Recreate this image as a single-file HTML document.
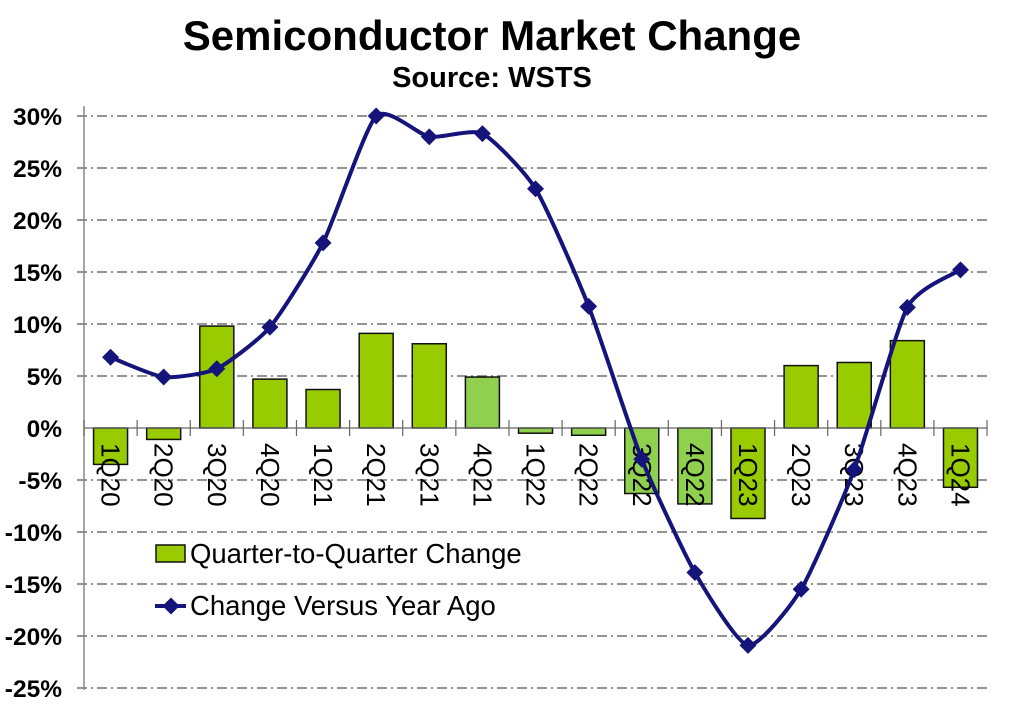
<!DOCTYPE html>
<html><head><meta charset="utf-8"><style>
body{margin:0;background:#fff;}
svg{display:block;font-family:"Liberation Sans",Arial,sans-serif;}
</style></head><body>
<svg width="1025" height="705" viewBox="0 0 1025 705" xmlns="http://www.w3.org/2000/svg">
<text x="492" y="50" text-anchor="middle" font-size="42" font-weight="bold">Semiconductor Market Change</text>
<text x="492" y="87" text-anchor="middle" font-size="29" font-weight="bold">Source: WSTS</text>
<g id="grid" stroke="#555" stroke-width="1.2" stroke-dasharray="10,4,2,4"></g>
<g id="ylab" font-size="24.5" font-weight="bold" text-anchor="end"></g>
<line x1="84" y1="106" x2="84" y2="690" stroke="#888" stroke-width="1.5"/>
<g id="bars" stroke="#111" stroke-width="1.5"></g>
<g id="ticks" stroke="#666" stroke-width="1.2"></g>
<g id="xlab" font-size="26"></g>
<path id="line" fill="none" stroke="#14147a" stroke-width="4"/>
<g id="marks" fill="#14147a"></g>
<rect x="156" y="545" width="29" height="17" fill="#99cc00" stroke="#111" stroke-width="1.5"/>
<text x="190" y="563" font-size="27.5">Quarter-to-Quarter Change</text>
<line x1="155" y1="606" x2="186" y2="606" stroke="#14147a" stroke-width="4"/>
<rect x="165" y="600" width="12" height="12" fill="#14147a" transform="rotate(45 171 606)"/>
<text x="190" y="615" font-size="27.5">Change Versus Year Ago</text>
</svg>
<script>
const NS="http://www.w3.org/2000/svg";
function el(p,t,a,txt){const e=document.createElementNS(NS,t);for(const k in a)e.setAttribute(k,a[k]);if(txt)e.textContent=txt;document.getElementById(p).appendChild(e);return e;}
const Y=v=>428-v*10.4, W=53.12, X=i=>84+W*(i+0.5);
for(let v=30;v>=-25;v-=5){ if(v!==0) el("grid","line",{x1:77,x2:987,y1:Y(v),y2:Y(v)}); el("ylab","text",{x:62,y:Y(v)+9},v+"%");}
const cats=["1Q20","2Q20","3Q20","4Q20","1Q21","2Q21","3Q21","4Q21","1Q22","2Q22","3Q22","4Q22","1Q23","2Q23","3Q23","4Q23","1Q24"];
const bars=[-3.5,-1.1,9.8,4.7,3.7,9.1,8.1,4.9,-0.5,-0.7,-6.3,-7.3,-8.7,6.0,6.3,8.4,-5.7];
const light=[7,8,9,10,11];
const line=[6.8,4.9,5.7,9.7,17.8,30,28,28.3,23,11.7,-3,-13.9,-20.9,-15.5,-4.0,11.6,15.2];
bars.forEach((b,i)=>{const y=Math.min(Y(b),Y(0)),h=Math.abs(Y(b)-Y(0));
el("bars","rect",{x:X(i)-17,y:y,width:34,height:h,fill:light.includes(i)?"#8fd04e":"#99cc00"});});
el("ticks","line",{x1:84,x2:987,y1:428,y2:428});
for(let i=0;i<=17;i++) el("ticks","line",{x1:84+W*i,x2:84+W*i,y1:420,y2:436});
cats.forEach((c,i)=>el("xlab","text",{x:0,y:0,transform:`translate(${X(i)-9},443) rotate(90)`},c));
const pts=line.map((v,i)=>[X(i),Y(v)]);
let d=`M${pts[0][0]},${pts[0][1]}`;
for(let i=0;i<pts.length-1;i++){const p0=pts[i-1]||pts[i],p1=pts[i],p2=pts[i+1],p3=pts[i+2]||p2;
const t=0.1;const c1=[p1[0]+(p2[0]-p0[0])*t,p1[1]+(p2[1]-p0[1])*t],c2=[p2[0]-(p3[0]-p1[0])*t,p2[1]-(p3[1]-p1[1])*t];
d+=` C${c1[0]},${c1[1]} ${c2[0]},${c2[1]} ${p2[0]},${p2[1]}`;}
document.getElementById("line").setAttribute("d",d);
pts.forEach(p=>el("marks","rect",{x:p[0]-6,y:p[1]-6,width:12,height:12,transform:`rotate(45 ${p[0]} ${p[1]})`}));
</script>
</body></html>
